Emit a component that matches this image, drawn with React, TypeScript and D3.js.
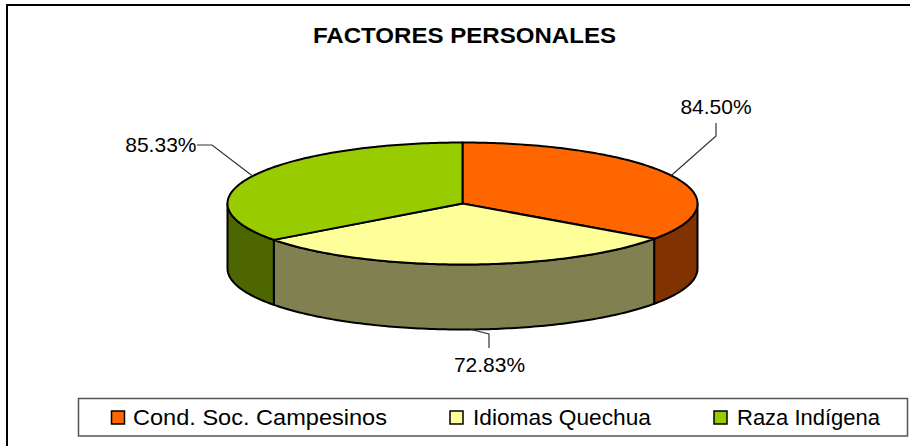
import * as d3 from "d3";

const categories = ["Cond. Soc. Campesinos", "Idiomas Quechua", "Raza Indígena"];
const values = [84.5, 72.83, 85.33];
const valueLabels = ["84.50%", "72.83%", "85.33%"];
const topColors = ["#FF6600", "#FFFF99", "#99CC00"];
const sideColors = ["#803300", "#808050", "#4D6600"];

const width = 910;
const height = 446;
const cx = 462.5;
const cy = 203.5;
const rx = 235;
const ry = 61;
const depth = 65;

const font = "'Liberation Sans', Arial, sans-serif";

const pie = d3.pie<number>().sort(null).value((d) => d);
const slices = pie(values);

// angle is clockwise from 12 o'clock, like d3.pie
const px = (a: number) => cx + rx * Math.sin(a);
const py = (a: number) => cy - ry * Math.cos(a);

const line = d3.line<[number, number]>();

function rimPoints(a0: number, a1: number, dy = 0): [number, number][] {
  const n = Math.max(2, Math.ceil((a1 - a0) * 60));
  return d3.range(n + 1).map((i) => {
    const a = a0 + ((a1 - a0) * i) / n;
    return [px(a), py(a) + dy] as [number, number];
  });
}

function topPath(a0: number, a1: number) {
  return line([[cx, cy], ...rimPoints(a0, a1)]) + "Z";
}

function sidePath(a0: number, a1: number) {
  const top = rimPoints(a0, a1);
  const bottom = rimPoints(a0, a1, depth).reverse();
  return line([...top, ...bottom]) + "Z";
}

// only the front half of the wall can be seen
const front = slices
  .map((s, i) => ({
    i,
    a0: Math.max(s.startAngle, Math.PI / 2),
    a1: Math.min(s.endAngle, (3 * Math.PI) / 2),
  }))
  .filter((s) => s.a1 > s.a0);

// label position and leader elbow per slice
const labelPos = [
  { x: 716, y: 114, anchor: "middle", elbow: [[716, 136], [716, 123]], dx: 0, dy: 0 },
  { x: 489.5, y: 372, anchor: "middle", elbow: [[489, 334], [489, 348]], dx: 6, dy: depth },
  { x: 196.5, y: 152, anchor: "end", elbow: [[212, 145], [197, 145]], dx: 0, dy: 0 },
];

const legendX = [111.5, 450, 714];
const legendTextX = [133, 473, 737];
const legendTextLen = [254, 178, 143];

export default function App() {
  return (
    <svg
      width={width}
      height={height}
      viewBox={`0 0 ${width} ${height}`}
      style={{ position: "absolute", left: 0, top: 0, display: "block", background: "#fff" }}
    >
      <path d={`M7,${height}V5H${width}`} fill="none" stroke="#000" strokeWidth={2} />
      <text
        x={464.5}
        y={43}
        textAnchor="middle"
        fontFamily={font}
        fontWeight="bold"
        fontSize={22}
        textLength={303}
        lengthAdjust="spacingAndGlyphs"
        fill="#000"
      >
        FACTORES PERSONALES
      </text>

      {front.map((s) => (
        <path
          key={s.i}
          d={sidePath(s.a0, s.a1)}
          fill={sideColors[s.i]}
          stroke="#000"
          strokeWidth={2}
          strokeLinejoin="round"
        />
      ))}
      {slices.map((s, i) => (
        <path
          key={i}
          d={topPath(s.startAngle, s.endAngle)}
          fill={topColors[i]}
          stroke="#000"
          strokeWidth={2}
          strokeLinejoin="round"
        />
      ))}

      {slices.map((s, i) => {
        const mid = (s.startAngle + s.endAngle) / 2;
        const p = labelPos[i];
        const pts = [[px(mid) + p.dx, py(mid) + p.dy], ...p.elbow] as [number, number][];
        return (
          <g key={i}>
            <path d={line(pts) ?? ""} fill="none" stroke="#333" strokeWidth={1.2} />
            <text
              x={p.x}
              y={p.y}
              textAnchor={p.anchor as "middle" | "end"}
              fontFamily={font}
              fontSize={21}
              fill="#000"
            >
              {valueLabels[i]}
            </text>
          </g>
        );
      })}

      <rect x={78.5} y={398.5} width={829} height={37.5} fill="#fff" stroke="#555" strokeWidth={1.5} />
      {categories.map((c, i) => (
        <g key={c}>
          <rect
            x={legendX[i]}
            y={411}
            width={13}
            height={13}
            fill={topColors[i]}
            stroke="#000"
            strokeWidth={1.5}
          />
          <text
            x={legendTextX[i]}
            y={425}
            fontFamily={font}
            fontSize={22}
            textLength={legendTextLen[i]}
            lengthAdjust="spacingAndGlyphs"
            fill="#000"
          >
            {c}
          </text>
        </g>
      ))}
    </svg>
  );
}
